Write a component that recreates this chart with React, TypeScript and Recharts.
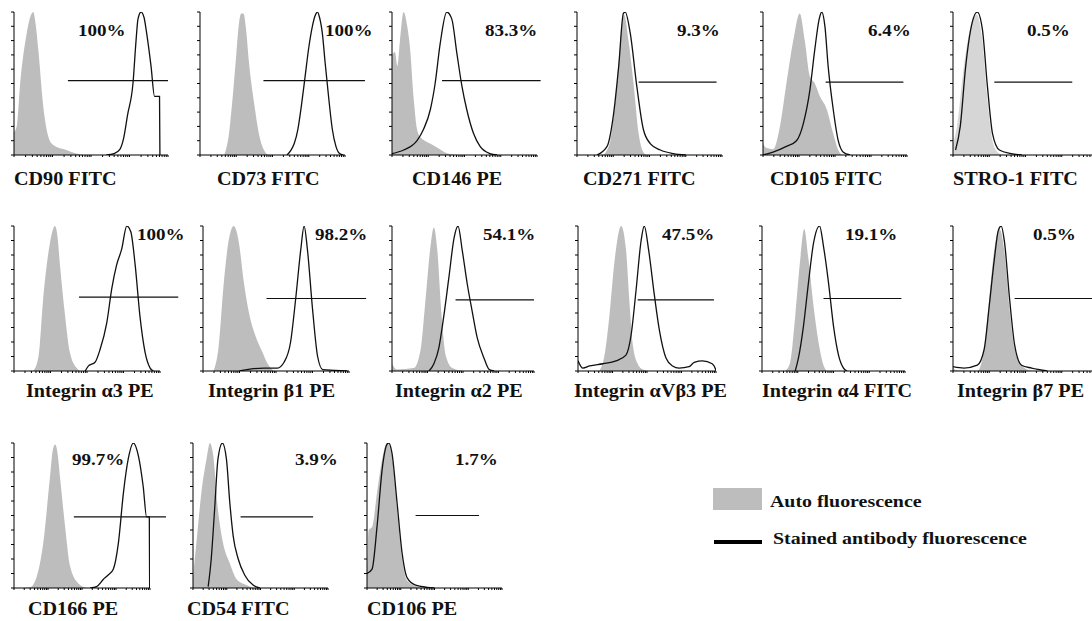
import React from 'react';
import { ComposedChart, Area, Line, XAxis, YAxis, ReferenceLine } from 'recharts';

type Pt = [number, number];

// x = log decades of fluorescence (0..4), y = % of the panel's highest peak
const cd90Auto: Pt[] = [[0, 16], [0.07, 20], [0.16, 50], [0.33, 85], [0.46, 99], [0.5, 100], [0.56, 92], [0.63, 74], [0.76, 34], [0.89, 13], [1.02, 7], [1.36, 3.5], [1.62, 1], [1.8, 0]];
const cd90Stained: Pt[] = [[2.4, 0], [2.6, 1], [2.75, 4], [2.85, 12], [2.95, 28], [3.09, 50], [3.17, 80], [3.22, 95], [3.3, 100], [3.38, 96], [3.43, 88], [3.56, 62], [3.65, 41], [3.78, 41], [3.79, 0]];

const cd73Auto: Pt[] = [[0.67, 0], [0.8, 15], [0.9, 40], [1.0, 70], [1.08, 93], [1.14, 99], [1.2, 99], [1.27, 88], [1.35, 65], [1.5, 35], [1.65, 12], [1.8, 2], [1.9, 0]];
const cd73Stained: Pt[] = [[2.4, 0], [2.5, 3], [2.6, 8], [2.7, 18], [2.8, 35], [2.9, 55], [3.0, 75], [3.1, 90], [3.17, 97], [3.24, 100], [3.3, 96], [3.38, 84], [3.45, 65], [3.55, 40], [3.65, 18], [3.75, 6], [3.85, 1], [3.95, 0]];

const cd146Auto: Pt[] = [[0, 70], [0.08, 72], [0.15, 62], [0.22, 80], [0.32, 100], [0.42, 90], [0.5, 74], [0.6, 39], [0.69, 18], [0.8, 12], [0.9, 10], [1.05, 8], [1.25, 5], [1.45, 2], [1.8, 0]];
const cd146Stained: Pt[] = [[0, 1], [0.32, 3.5], [0.69, 10], [0.87, 18], [1.06, 32], [1.19, 50], [1.33, 78], [1.51, 100], [1.65, 95], [1.79, 71], [1.93, 48], [2.06, 32], [2.25, 15], [2.43, 6], [2.7, 1], [2.9, 0]];

const cd271Auto: Pt[] = [[0.73, 0], [0.92, 10], [1.1, 50], [1.24, 90], [1.3, 98], [1.42, 80], [1.56, 50], [1.7, 15], [1.83, 2], [1.93, 0]];
const cd271Stained: Pt[] = [[0.55, 0], [0.83, 6], [1.0, 27], [1.15, 62], [1.28, 99], [1.33, 100], [1.47, 85], [1.65, 48], [1.83, 18], [2.02, 8], [2.3, 3.5], [2.66, 1], [3.0, 0]];

const cd105Auto: Pt[] = [[0, 8], [0.09, 5], [0.28, 4], [0.47, 20], [0.65, 50], [0.84, 80], [1.02, 99], [1.16, 80], [1.3, 55], [1.44, 50], [1.58, 41], [1.77, 32], [1.95, 15], [2.09, 3.5], [2.19, 0]];
const cd105Stained: Pt[] = [[0, 0], [0.28, 2], [0.65, 6], [0.93, 10], [1.12, 22], [1.3, 45], [1.44, 74], [1.56, 95], [1.63, 100], [1.72, 90], [1.81, 62], [1.95, 32], [2.09, 10], [2.23, 2], [2.42, 0]];

const stro1Auto: Pt[] = [[0, 8], [0.11, 20], [0.3, 62], [0.49, 90], [0.65, 98], [0.81, 80], [0.95, 39], [1.09, 10], [1.23, 2], [1.4, 0]];
const stro1Stained: Pt[] = [[0.07, 3.5], [0.2, 20], [0.35, 62], [0.49, 88], [0.67, 100], [0.81, 88], [0.95, 48], [1.09, 15], [1.28, 3.5], [1.6, 1], [1.9, 0]];

const a3Auto: Pt[] = [[0.53, 0], [0.67, 10], [0.8, 50], [0.99, 89], [1.06, 97], [1.12, 100], [1.18, 95], [1.26, 73], [1.4, 38], [1.53, 13], [1.72, 2], [1.81, 0]];
const a3Stained: Pt[] = [[1.95, 0], [2.04, 3.5], [2.22, 6], [2.36, 15], [2.54, 33], [2.68, 57], [2.81, 73], [2.95, 84], [3.09, 100], [3.2, 96], [3.32, 73], [3.45, 38], [3.59, 13], [3.73, 2], [3.82, 0]];

const b1Auto: Pt[] = [[0.29, 0], [0.43, 17], [0.57, 61], [0.71, 91], [0.78, 98], [0.84, 100], [0.91, 97], [0.98, 89], [1.12, 61], [1.26, 40], [1.44, 24], [1.63, 13], [1.77, 5], [1.95, 0]];
const b1Stained: Pt[] = [[1.0, 0], [1.2, 1], [1.67, 2], [2.04, 2], [2.22, 6], [2.4, 20], [2.54, 50], [2.68, 84], [2.77, 100], [2.86, 84], [3.0, 43], [3.14, 10], [3.28, 1], [3.6, 0.5], [3.95, 0]];

const a2Auto: Pt[] = [[0, 5], [0.14, 1], [0.61, 2], [0.8, 14], [0.94, 48], [1.08, 85], [1.18, 99], [1.27, 85], [1.4, 37], [1.51, 11], [1.7, 2], [2.0, 0]];
const a2Stained: Pt[] = [[1.04, 0], [1.18, 5], [1.32, 16], [1.46, 38], [1.6, 64], [1.75, 92], [1.86, 100], [1.98, 83], [2.12, 60], [2.26, 41], [2.4, 23], [2.59, 9], [2.74, 1], [2.88, 0]];

const avb3Auto: Pt[] = [[0.62, 0], [0.77, 11], [0.91, 38], [1.06, 76], [1.25, 100], [1.39, 84], [1.49, 48], [1.59, 18], [1.73, 5], [1.88, 1], [2.07, 0]];
const avb3Stained: Pt[] = [[0, 7], [0.14, 2], [0.34, 3.5], [0.72, 5], [1.1, 7], [1.39, 11], [1.54, 25], [1.68, 55], [1.83, 90], [1.92, 100], [2.05, 83], [2.21, 53], [2.36, 28], [2.55, 9], [2.74, 3.5], [2.93, 2], [3.22, 3], [3.37, 6], [3.61, 7], [3.89, 5], [3.99, 1], [4.0, 0]];

const a4Auto: Pt[] = [[0.65, 0], [0.79, 6], [0.93, 38], [1.07, 77], [1.18, 98], [1.3, 77], [1.44, 45], [1.58, 20], [1.72, 4], [1.81, 0]];
const a4Stained: Pt[] = [[0.93, 0], [1.02, 9], [1.16, 31], [1.3, 61], [1.44, 88], [1.61, 100], [1.72, 86], [1.86, 61], [2.0, 31], [2.14, 11], [2.28, 2], [2.38, 0]];

const b7Auto: Pt[] = [[0, 2], [0.1, 0.5], [0.67, 0], [0.86, 15], [1.0, 50], [1.14, 84], [1.28, 98], [1.42, 82], [1.56, 43], [1.7, 15], [1.89, 4], [2.17, 0]];
const b7Stained: Pt[] = [[0, 3], [0.3, 2], [0.67, 4], [0.86, 15], [1.0, 45], [1.14, 77], [1.25, 97], [1.33, 100], [1.42, 89], [1.56, 50], [1.7, 18], [1.89, 4], [2.17, 2], [2.6, 0]];

const cd166Auto: Pt[] = [[0.2, 0], [0.47, 0.5], [0.67, 8], [0.86, 31], [1.06, 77], [1.14, 95], [1.21, 99], [1.28, 93], [1.35, 77], [1.5, 43], [1.65, 15], [1.9, 3], [2.15, 0]];
const cd166Stained: Pt[] = [[2.24, 0], [2.43, 1], [2.63, 6], [2.77, 9], [2.92, 13], [3.07, 31], [3.22, 66], [3.36, 89], [3.51, 100], [3.66, 91], [3.8, 70], [3.9, 49], [3.98, 49], [3.99, 0]];

const cd54Auto: Pt[] = [[0, 8], [0.1, 31], [0.25, 66], [0.4, 89], [0.5, 100], [0.59, 93], [0.74, 54], [0.89, 31], [1.09, 17], [1.29, 6], [1.58, 2], [1.78, 0]];
const cd54Stained: Pt[] = [[0.45, 1], [0.54, 20], [0.64, 54], [0.74, 89], [0.87, 100], [0.99, 89], [1.09, 59], [1.19, 36], [1.34, 20], [1.53, 9], [1.78, 2], [1.98, 0]];

const cd106Auto: Pt[] = [[0, 10], [0.05, 40], [0.15, 42], [0.3, 66], [0.45, 89], [0.59, 100], [0.74, 91], [0.89, 54], [1.04, 20], [1.19, 5], [1.49, 1], [1.7, 0]];
const cd106Stained: Pt[] = [[0, 10], [0.15, 13], [0.3, 43], [0.45, 82], [0.59, 99], [0.64, 100], [0.74, 93], [0.89, 59], [1.04, 24], [1.19, 7], [1.44, 2], [1.78, 0.5], [2.0, 0]];

const markers = [
  'CD90 FITC', 'CD73 FITC', 'CD146 PE', 'CD271 FITC', 'CD105 FITC', 'STRO-1 FITC',
  'Integrin α3 PE', 'Integrin β1 PE', 'Integrin α2 PE', 'Integrin αVβ3 PE', 'Integrin α4 FITC', 'Integrin β7 PE',
  'CD166 PE', 'CD54 FITC', 'CD106 PE',
];
const percents = ['100%', '100%', '83.3%', '9.3%', '6.4%', '0.5%', '100%', '98.2%', '54.1%', '47.5%', '19.1%', '0.5%', '99.7%', '3.9%', '1.7%'];
// gate marker: [from, to, height]
const gates: [number, number, number][] = [
  [1.4, 4.0, 52], [1.75, 4.55, 52], [1.38, 4.1, 52], [1.7, 3.85, 51], [1.74, 3.9, 51], [1.14, 3.29, 51],
  [1.78, 4.5, 51], [1.74, 4.47, 50], [1.79, 4.0, 49], [1.73, 3.94, 49], [1.72, 3.9, 50], [1.7, 3.95, 50],
  [1.76, 4.47, 49], [1.41, 3.56, 49], [1.44, 3.32, 50],
];
const autoSeries = [cd90Auto, cd73Auto, cd146Auto, cd271Auto, cd105Auto, stro1Auto, a3Auto, b1Auto, a2Auto, avb3Auto, a4Auto, b7Auto, cd166Auto, cd54Auto, cd106Auto];
const stainedSeries = [cd90Stained, cd73Stained, cd146Stained, cd271Stained, cd105Stained, stro1Stained, a3Stained, b1Stained, a2Stained, avb3Stained, a4Stained, b7Stained, cd166Stained, cd54Stained, cd106Stained];
const legendItems = ['Auto fluorescence', 'Stained antibody fluorescence'];

// log-decade minor ticks on the x axis
const logTicks: number[] = [];
for (let d = 0; d < 4; d++) for (let k = 1; k < 10; k++) logTicks.push(d + Math.log10(k));
logTicks.push(4);
const yTicks = [0, 10, 20, 30, 40, 50, 60, 70, 80, 90, 100];

// panel placement: axis origin x, plot top, plot width, plot height, label and percent positions
const slots = [
  { x: 14, top: 12, w: 154, h: 143, lx: 14, ly: 180, px: 78, py: 31 },
  { x: 200, top: 12, w: 145, h: 143, lx: 217, ly: 180, px: 325, py: 31 },
  { x: 392, top: 12, w: 145, h: 143, lx: 412, ly: 180, px: 485, py: 31 },
  { x: 577, top: 12, w: 145, h: 143, lx: 583, ly: 180, px: 677, py: 31 },
  { x: 763, top: 12, w: 144, h: 143, lx: 770, ly: 180, px: 868, py: 31 },
  { x: 953, top: 12, w: 145, h: 143, lx: 953, ly: 180, px: 1027, py: 31 },
  { x: 14, top: 226, w: 146, h: 145, lx: 26, ly: 392, px: 137, py: 235 },
  { x: 203, top: 226, w: 146, h: 145, lx: 208, ly: 392, px: 315, py: 235 },
  { x: 392, top: 226, w: 142, h: 145, lx: 395, ly: 392, px: 483, py: 235 },
  { x: 578, top: 226, w: 138, h: 145, lx: 574, ly: 392, px: 662, py: 235 },
  { x: 762, top: 226, w: 143, h: 145, lx: 762, ly: 392, px: 845, py: 235 },
  { x: 953, top: 226, w: 145, h: 145, lx: 957, ly: 392, px: 1033, py: 235 },
  { x: 14, top: 443, w: 136, h: 145, lx: 28, ly: 610, px: 72, py: 460 },
  { x: 193, top: 443, w: 135, h: 145, lx: 187, ly: 610, px: 295, py: 460 },
  { x: 367, top: 443, w: 135, h: 145, lx: 367, ly: 610, px: 455, py: 460 },
];

const GRAY = '#bdbdbd';
const LIGHT_GRAY = '#d6d6d6';
const FONT = '"Liberation Serif", "Times New Roman", serif';

const textStyle = (x: number, y: number, size: number, stretch = 1.12): React.CSSProperties => ({
  position: 'absolute', left: x, top: y - size * 0.55, fontFamily: FONT, fontWeight: 700,
  fontSize: size, lineHeight: 1, whiteSpace: 'nowrap', color: '#111',
  transform: `scaleX(${stretch})`, transformOrigin: 'left center',
});

const Histogram = ({ i }: { i: number }) => {
  const s = slots[i];
  const ML = 5, MT = 4, MR = 60, MB = 5, AX = 1;
  const auto = autoSeries[i].map(([x, y]) => ({ x, y }));
  const stained = stainedSeries[i].map(([x, y]) => ({ x, y }));
  const [g0, g1, gy] = gates[i];
  return (
    <div style={{ position: 'absolute', left: s.x - ML - AX, top: s.top - MT }}>
      <ComposedChart width={s.w + ML + AX + MR} height={s.h + MT + MB + AX} margin={{ top: MT, right: MR, bottom: MB, left: ML }}>
        <XAxis type="number" dataKey="x" domain={[0, 4]} ticks={logTicks} interval={0} tickFormatter={() => ''}
          tickSize={2} height={AX} stroke="#000" tick={{ fontSize: 1 }} allowDataOverflow />
        <YAxis type="number" domain={[0, 100]} ticks={yTicks} interval={0} tickFormatter={() => ''}
          tickSize={3} width={AX} stroke="#000" tick={{ fontSize: 1 }} allowDataOverflow />
        <Area data={auto} dataKey="y" type="monotoneX" fill={i === 5 ? LIGHT_GRAY : GRAY} fillOpacity={1}
          stroke="none" isAnimationActive={false} />
        <Line data={stained} dataKey="y" type="monotoneX" stroke="#111" strokeWidth={1.3} dot={false}
          isAnimationActive={false} />
        <ReferenceLine segment={[{ x: g0, y: gy }, { x: g1, y: gy }]} stroke="#111" strokeWidth={1.2} ifOverflow="visible" />
      </ComposedChart>
    </div>
  );
};

export default function App() {
  return (
    <div style={{ position: 'absolute', left: 0, top: 0, width: 1092, height: 621, background: '#fff', overflow: 'hidden' }}>
      {markers.map((m, i) => (
        <React.Fragment key={m}>
          <Histogram i={i} />
          <div style={textStyle(slots[i].lx, slots[i].ly, 18)}>{m}</div>
          <div style={textStyle(slots[i].px, slots[i].py, 17)}>{percents[i]}</div>
        </React.Fragment>
      ))}
      <div style={{ position: 'absolute', left: 713, top: 488, width: 49, height: 22, background: GRAY }} />
      <div style={textStyle(770, 502, 17, 1.17)}>{legendItems[0]}</div>
      <div style={{ position: 'absolute', left: 714, top: 540, width: 48, height: 4, background: '#000' }} />
      <div style={textStyle(773, 539, 17, 1.17)}>{legendItems[1]}</div>
    </div>
  );
}
